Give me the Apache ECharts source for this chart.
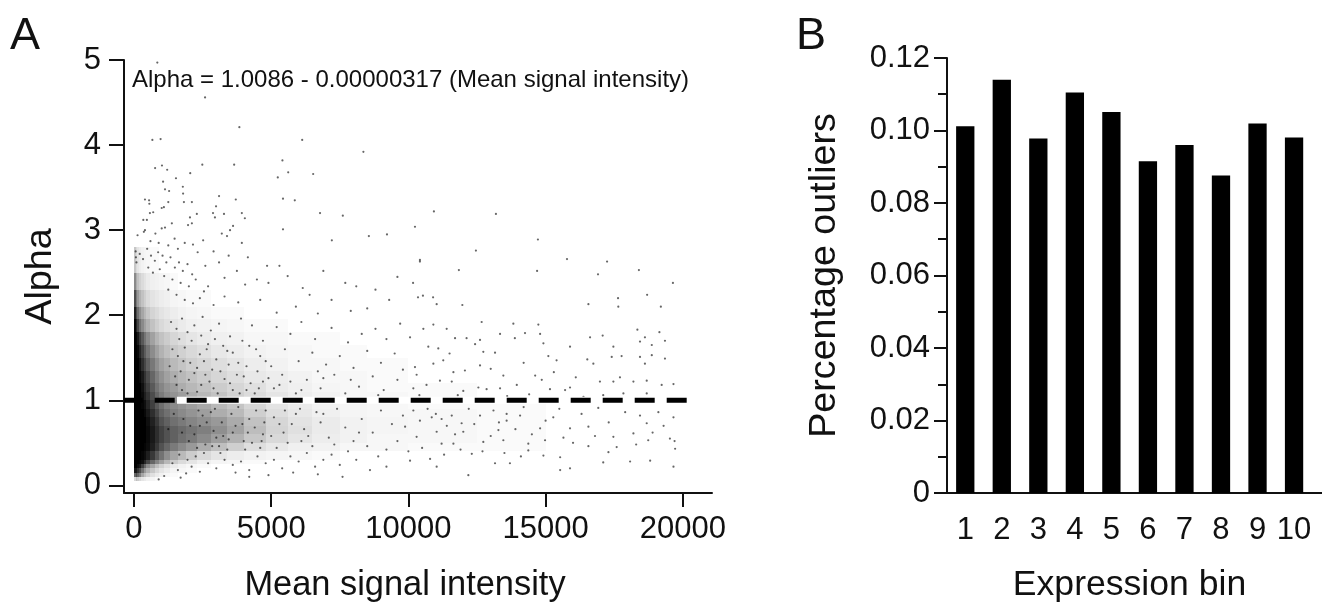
<!DOCTYPE html>
<html><head><meta charset="utf-8">
<style>html,body{margin:0;padding:0;background:#fff}#c{width:1322px;height:602px}</style>
<script src="https://cdn.jsdelivr.net/npm/echarts@6/dist/echarts.min.js"></script>
</head><body><div id="c"></div>
<script>
// Panel B values
const bins = [1,2,3,4,5,6,7,8,9,10];
const outliers = [0.1012,0.1140,0.0978,0.1105,0.1051,0.0915,0.0960,0.0876,0.1019,0.0981];
// Panel A: the trend line level
const fitAlpha = 1;
// Panel A: too many dots to read one by one, so the dense core is an estimated table of darkness (percent)
const xEdges = [0,60,120,180,250,350,450,600,750,900,1100,1300,1600,1900,2300,2800,3400,4000,4800,5600,6500,7500,8500,10000,12500,15000,20000];
const alphaEdges = [.05,.1,.15,.2,.25,.3,.4,.5,.6,.7,.8,.9,1,1.1,1.2,1.35,1.5,1.65,1.8,1.95,2.1,2.3,2.5,2.8];
const darkness = [
 [15,25,20,15,10,8,5,4,2,1,0,0,0,0,0,0,0,0,0,0,0,0,0,0,0,0],
 [60,70,60,50,35,25,18,12,8,5,3,2,1,0,0,0,0,0,0,0,0,0,0,0,0,0],
 [90,90,80,70,55,40,30,22,15,10,7,4,3,2,1,0,0,0,0,0,0,0,0,0,0,0],
 [100,100,95,90,75,60,45,35,25,18,12,8,5,3,2,1,1,0,0,0,0,0,0,0,0,0],
 [100,100,100,98,95,85,72,60,48,38,28,20,14,10,6,4,3,2,1,1,0,0,0,0,0,0],
 [100,100,100,100,98,95,88,78,66,55,44,35,27,20,15,10,7,5,4,3,2,1,1,1,1,0],
 [100,100,100,100,100,98,95,88,78,68,60,52,46,40,32,25,19,13,9,6,5,3,3,2,2,1],
 [100,100,100,100,100,100,96,90,82,74,68,62,56,52,46,38,30,22,15,10,7,5,3,3,2,1],
 [100,100,100,100,100,100,96,90,82,74,68,62,58,54,50,44,36,26,17,12,8,5,4,3,2,1],
 [100,100,100,100,100,100,94,87,78,68,62,56,52,48,44,40,33,24,16,11,8,5,4,3,2,1],
 [100,100,100,100,100,97,90,82,72,62,56,50,46,42,38,32,27,19,13,9,6,4,3,3,2,1],
 [100,100,100,100,98,94,85,75,65,57,50,46,42,38,34,28,23,16,11,8,5,4,3,2,2,1],
 [100,100,100,100,96,88,80,70,60,52,46,42,38,32,28,24,18,14,10,7,5,3,3,2,1,1],
 [100,100,100,100,94,84,75,65,55,48,42,38,32,28,24,20,16,12,8,6,4,3,2,2,1,1],
 [100,100,100,97,90,80,70,60,50,43,37,32,28,24,20,16,13,9,7,5,3,3,2,1,1,1],
 [100,100,100,93,82,72,62,53,44,37,32,27,23,19,16,13,10,7,5,3,3,2,2,1,1,1],
 [100,100,97,86,75,64,54,45,37,30,25,21,18,15,12,9,7,5,4,3,2,2,1,1,1,0],
 [100,98,90,76,65,54,45,37,29,24,20,16,13,10,8,6,5,3,3,2,2,1,1,1,0,0],
 [98,86,72,56,46,37,30,24,19,15,12,10,8,6,5,4,3,2,2,1,1,1,1,0,0,0],
 [88,70,56,44,35,28,22,17,14,11,9,7,5,4,3,2,2,1,1,1,1,0,0,0,0,0],
 [70,52,40,30,24,19,14,11,9,7,6,4,3,2,2,1,1,0,0,0,0,0,0,0,0,0],
 [46,32,24,18,14,11,8,6,5,4,3,2,1,1,1,0,0,0,0,0,0,0,0,0,0,0],
 [22,14,10,7,5,4,3,2,2,1,1,0,0,0,0,0,0,0,0,0,0,0,0,0,0,0]
];
// Panel A: individual dots [mean signal intensity, alpha]
const dotsUpper = [[850,4.97],[2590,4.56],[3840,4.21],[670,4.06],[970,4.07],[6130,4.06],[8360,3.92],[5410,3.82],[3650,3.77],[2490,3.77],[770,3.73],[1020,3.76],[1210,3.71],[2050,3.67],[6530,3.66],[5620,3.68],[5240,3.62],[1530,3.61],[1780,3.51],[1060,3.57],[1130,3.48],[1280,3.46],[1790,3.43],[3100,3.40],[3710,3.36],[5430,3.37],[5860,3.35],[400,3.36],[550,3.35],[560,3.31],[1250,3.33],[1820,3.33],[2110,3.33],[2990,3.28],[1010,3.26],[1090,3.27],[6780,3.20],[7610,3.17],[2880,3.20],[2950,3.15],[3280,3.19],[3930,3.20],[4040,3.14],[2290,3.19],[2040,3.15],[580,3.20],[700,3.21],[340,3.12],[470,3.12],[1380,3.08],[1970,3.06],[2110,3.08],[5430,3.01],[1010,3.02],[1130,3.03],[780,2.96],[400,3.00],[130,2.94],[360,2.98],[3610,3.05],[3500,3.00],[3200,2.96],[3390,2.93],[8560,2.93],[9220,2.95],[7210,2.88],[2520,2.88],[3930,2.85],[10930,3.22],[13190,3.19],[10240,3.04],[14720,2.89],[12460,2.76],[10420,2.65],[10420,2.63],[15780,2.66],[17240,2.63],[11840,2.53],[14690,2.52],[16910,2.48],[18400,2.53],[10170,2.38],[19640,2.38],[10350,2.21],[10530,2.23],[10900,2.21],[17640,2.20],[18700,2.24],[1480,2.90],[1850,2.85],[2150,2.83],[600,2.87],[900,2.85],[1250,2.82],[1600,2.78],[2320,2.74],[2900,2.75],[3450,2.70],[4150,2.68],[4850,2.58],[5300,2.58],[4480,2.42],[4900,2.38],[5600,2.46],[6150,2.32],[6900,2.52],[7700,2.38],[8100,2.34],[8800,2.30],[9600,2.45],[3100,2.62],[2600,2.58],[3750,2.52],[3300,2.44],[4050,2.36],[2700,2.34],[6400,2.24],[7200,2.18],[5900,2.10],[4600,2.18],[9300,2.18],[8500,2.08],[7900,2.05],[6700,2.02],[5200,2.03],[3800,2.15],[3300,2.22],[2400,2.20],[2900,2.12],[60,2.75],[70,2.68],[90,2.62],[210,2.72],[330,2.66],[480,2.78],[620,2.70],[760,2.64],[880,2.74],[1040,2.70],[1180,2.62],[1330,2.68],[1490,2.56],[1640,2.62],[1780,2.52],[1950,2.60],[2120,2.48],[520,2.56],[690,2.50],[940,2.54],[1100,2.46],[1400,2.42],[1700,2.38],[2000,2.34],[2250,2.42],[2550,2.28],[1250,2.30],[1550,2.24],[1850,2.18],[2150,2.14]];
const dotsMid = [[11030,2.13],[11966,2.12],[16560,2.13],[17650,2.10],[19200,2.10],[12670,1.92],[10910,1.89],[13825,1.90],[14736,1.89],[10545,1.84],[11395,1.84],[18345,1.83],[19147,1.80],[14250,1.79],[13340,1.78],[14800,1.78],[17080,1.76],[16620,1.74],[18620,1.74],[10060,1.74],[11700,1.73],[12120,1.73],[12610,1.71],[13880,1.73],[19350,1.70],[12430,1.66],[14920,1.67],[18870,1.65],[10726,1.63],[15890,1.63],[17470,1.63],[13157,1.56],[11090,1.61],[18440,1.69],[12730,1.57],[18870,1.53],[17410,1.51],[17770,1.52],[15100,1.52],[16520,1.48],[18440,1.51],[19350,1.49],[15400,1.47],[10240,1.39],[10910,1.43],[12610,1.41],[11270,1.47],[11640,1.33],[18620,1.43],[12060,1.35],[13460,1.29],[14620,1.29],[17710,1.27],[16740,1.43],[17470,1.22],[18200,1.22],[18685,1.23],[19660,1.19],[19230,1.18],[16980,1.22],[11150,1.23],[11580,1.22],[12550,1.15],[13950,1.18],[14860,1.24],[15890,1.15],[15160,1.13],[15710,1.12],[10180,1.14],[10660,1.18],[12000,1.11],[13340,1.14],[12850,1.13],[17100,1.06],[17835,1.08],[16380,1.04],[18685,1.08],[10300,1.30],[11500,1.55],[13000,1.37],[14200,1.44],[15300,1.33],[16100,1.27],[13600,1.05],[14400,1.07],[11800,1.06],[10400,1.06],[9700,1.90],[9200,1.72],[8800,1.84],[8300,1.78],[7800,1.68],[7200,1.85],[6600,1.72],[6100,1.92],[5700,1.78],[5200,1.86],[4700,1.70],[4300,1.88],[3900,1.96],[3500,1.75],[3100,1.90],[2800,1.82],[2500,1.98],[9500,1.55],[9000,1.44],[8500,1.58],[8000,1.38],[7500,1.52],[7000,1.42],[6500,1.56],[6000,1.46],[5500,1.60],[5000,1.40],[4600,1.52],[4200,1.64],[3800,1.44],[3400,1.58],[3000,1.48],[2700,1.66],[2400,1.54],[2100,1.70],[1800,1.46],[1650,1.72],[9600,1.24],[9100,1.12],[8700,1.28],[8200,1.16],[7700,1.08],[7300,1.30],[6800,1.14],[6300,1.24],[5900,1.08],[5400,1.30],[5100,1.14],[4700,1.22],[4400,1.08],[4000,1.28],[3600,1.12],[3300,1.25],[2900,1.14],[2600,1.30],[2300,1.10],[2000,1.24],[1750,1.12],[1500,1.28],[9800,1.36],[8900,1.06],[7900,1.24],[6700,1.34],[5700,1.22],[4900,1.26],[4100,1.12],[1350,1.92],[1550,1.84],[1750,1.96],[1950,1.80],[2200,1.88],[2450,1.76],[2650,1.60],[2950,1.72],[3250,1.64],[3600,1.56],[3950,1.70],[4450,1.60],[1400,1.60],[1600,1.52],[1850,1.62],[2050,1.44],[2300,1.38],[2550,1.46],[2850,1.36],[3150,1.34],[3450,1.42],[3750,1.30],[4100,1.40],[4500,1.34],[4800,1.46],[1300,1.40],[1550,1.18],[1700,1.34],[1950,1.08],[2200,1.32],[2450,1.18],[2750,1.22],[3050,1.08],[3500,1.20],[3850,1.08],[4250,1.20],[4550,1.14],[5300,1.18],[6100,1.12],[6900,1.26]];
const dotsLower = [[10180,.88],[10850,.80],[11210,.78],[13100,.88],[13580,.84],[14070,.82],[16310,.84],[16920,.91],[18440,.82],[19110,.86],[19660,.80],[10420,.76],[11580,.82],[11940,.73],[12610,.82],[13580,.76],[14800,.67],[15280,.80],[15890,.67],[16560,.69],[18685,.73],[9880,.69],[11030,.63],[12000,.63],[13280,.65],[14370,.49],[15650,.56],[18200,.61],[18740,.53],[19530,.55],[17470,.57],[10300,.57],[11210,.49],[11640,.49],[12730,.51],[13460,.53],[14980,.53],[16560,.46],[17590,.45],[19720,.43],[17290,.39],[10060,.29],[10790,.31],[12310,.37],[13157,.26],[13700,.26],[14370,.41],[15530,.33],[15530,.18],[15890,.20],[19660,.22],[17100,.27],[12185,.12],[11030,.22],[18810,.29],[18080,.28],[14920,.35],[10700,.90],[11000,.84],[11400,.70],[11700,.60],[12200,.90],[12400,.72],[13000,.58],[13300,.74],[13900,.66],[14200,.92],[14500,.60],[15000,.76],[15500,.90],[16000,.50],[16800,.58],[17300,.74],[17900,.86],[18300,.48],[18900,.62],[19300,.70],[19700,.52],[10000,.40],[10500,.44],[11300,.36],[11900,.42],[12700,.40],[13500,.38],[14100,.34],[9800,.82],[9400,.72],[9000,.88],[8700,.62],[8300,.78],[8000,.52],[7700,.68],[7400,.90],[7100,.56],[6800,.74],[6500,.46],[6200,.66],[5900,.84],[5600,.50],[5300,.72],[5000,.58],[4800,.88],[4600,.44],[4400,.68],[4200,.78],[4000,.52],[3800,.92],[3600,.62],[3400,.42],[3200,.74],[3000,.56],[2800,.86],[2600,.48],[2400,.70],[2200,.60],[9600,.52],[9200,.42],[8900,.34],[8500,.46],[8100,.30],[7800,.40],[7500,.24],[7200,.36],[6900,.30],[6600,.22],[6300,.38],[6000,.28],[5700,.34],[5400,.20],[5100,.30],[4800,.26],[4500,.34],[4200,.18],[3900,.28],[3600,.24],[3300,.30],[3000,.20],[2700,.26],[2400,.16],[2100,.22],[1900,.14],[1600,.18],[7600,.10],[6700,.13],[5800,.15],[4900,.12],[4200,.10],[3700,.15],[1700,.09],[1100,.11],[900,.07],[9200,.22],[8600,.18],[8200,.62],[7300,.48],[6900,.84],[6100,.52],[5500,.88],[5200,.44],[4700,.60],[4300,.50],[3700,.70],[3100,.46],[2900,.64],[2500,.82],[2300,.44],[2000,.52],[1800,.78],[5100,.80],[5450,.62],[5750,.72],[6050,.90],[6350,.58],[6650,.86],[4150,.62],[4450,.88],[4750,.74],[3950,.72],[3550,.84],[3250,.58],[2950,.90],[2650,.74],[2350,.88],[2050,.70],[1750,.62],[1450,.84],[1250,.66],[4650,.52],[4050,.42],[3450,.54],[3150,.38],[2850,.46],[2550,.38],[2250,.34],[1950,.30],[1650,.36],[1400,.26]];

const sparseDots = dotsUpper.concat(dotsMid, dotsLower);
const darknessCells = [];
darkness.forEach((row, r) => row.forEach((d, c) => {
  if (d > 1) darknessCells.push([xEdges[c], xEdges[c+1], alphaEdges[r], alphaEdges[r+1], d / 100]);
}));
const barData = bins.map((b, i) => [b, outliers[i]]);

const FONT = '"Liberation Sans", Arial, sans-serif';
const INK = '#111';
const chart = echarts.init(document.getElementById('c'), null, {renderer: 'canvas'});
const ticks = {fontFamily: FONT, fontSize: 31, color: INK};
const axisLine = {show: true, onZero: false, lineStyle: {color: INK, width: 2}};
chart.setOption({
  animation: false,
  backgroundColor: '#fff',
  grid: [
    {left: 124, top: 60, width: 588, height: 433, outerBoundsMode: 'none'},
    {left: 947, top: 58, width: 375, height: 435, outerBoundsMode: 'none'}
  ],
  xAxis: [
    {gridIndex: 0, type: 'value', min: -364, max: 21064, splitLine: {show: false},
     axisLine, axisTick: {length: 14, customValues: [0,5000,10000,15000,20000], lineStyle: {color: INK, width: 2}},
     axisLabel: {...ticks, margin: 21, customValues: [0,5000,10000,15000,20000], formatter: v => String(v), hideOverlap: false},
     name: 'Mean signal intensity', nameLocation: 'middle', nameGap: 76, nameTextStyle: {fontFamily: FONT, fontSize: 34.4, color: INK, padding: [0,26,0,0]}},
    {gridIndex: 1, type: 'value', min: 0.5, max: 10.765, splitLine: {show: false},
     axisLine, axisTick: {show: false},
     axisLabel: {...ticks, margin: 22, customValues: bins, formatter: v => String(v), hideOverlap: false},
     name: 'Expression bin', nameLocation: 'middle', nameGap: 74, nameTextStyle: {fontFamily: FONT, fontSize: 35.6, color: INK, padding: [0,10,0,0]}}
  ],
  yAxis: [
    {gridIndex: 0, type: 'value', min: -0.09, max: 5, splitLine: {show: false},
     axisLine, axisTick: {length: 15, customValues: [0,1,2,3,4,5], lineStyle: {color: INK, width: 2}},
     axisLabel: {...ticks, margin: 23, customValues: [0,1,2,3,4,5], formatter: v => String(v)},
     name: 'Alpha', nameLocation: 'middle', nameGap: 56, nameTextStyle: {fontFamily: FONT, fontSize: 37.8, color: INK, padding: [0,0,8,0]}},
    {gridIndex: 1, type: 'value', min: 0, max: 0.12, interval: 0.02, splitLine: {show: false},
     axisLine, axisTick: {length: 13, lineStyle: {color: INK, width: 2}},
     minorTick: {show: true, splitNumber: 2, length: 9, lineStyle: {color: INK, width: 2}},
     axisLabel: {...ticks, margin: 17, formatter: v => v === 0 ? '0' : v.toFixed(2)},
     name: 'Percentage outliers', nameLocation: 'middle', nameGap: 103, nameTextStyle: {fontFamily: FONT, fontSize: 37.7, color: INK}}
  ],
  series: [
    {type: 'custom', name: 'Density', xAxisIndex: 0, yAxisIndex: 0, data: darknessCells, silent: true,
     encode: {x: [0,1], y: [2,3]},
     renderItem(params, api) {
       const a = api.coord([api.value(0), api.value(3)]);
       const b = api.coord([api.value(1), api.value(2)]);
       const x0 = Math.round(a[0]), y0 = Math.round(a[1]);
       return {type: 'rect', shape: {x: x0, y: y0, width: Math.round(b[0]) - x0, height: Math.round(b[1]) - y0},
               style: {fill: 'rgba(0,0,0,' + api.value(4) + ')'}};
     }},
    {type: 'scatter', name: 'Genes', xAxisIndex: 0, yAxisIndex: 0, data: sparseDots, symbol: 'circle', symbolSize: 2.2,
     itemStyle: {color: '#000', opacity: 0.6}, silent: true},
    {type: 'line', name: 'Fit halo', xAxisIndex: 0, yAxisIndex: 0, data: [[1567,fitAlpha],[20245,fitAlpha]], symbol: 'none',
     lineStyle: {color: '#fff', width: 7}, silent: true},
    {type: 'line', name: 'Fit', xAxisIndex: 0, yAxisIndex: 0, data: [[-364,fitAlpha],[20245,fitAlpha]], symbol: 'none',
     lineStyle: {color: '#000', width: 5, type: [20,12], dashOffset: 1.3, cap: 'butt'}, silent: true},
    {type: 'bar', name: 'Percentage outliers', xAxisIndex: 1, yAxisIndex: 1, data: barData, barWidth: 18.3,
     itemStyle: {color: '#000'}, silent: true}
  ],
  graphic: [
    {type: 'text', left: 132, top: 68, style: {text: 'Alpha = 1.0086 - 0.00000317 (Mean signal intensity)', font: '24px ' + FONT, fill: INK}},
    {type: 'text', left: 10, top: 14, style: {text: 'A', font: '45px ' + FONT, fill: INK}},
    {type: 'text', left: 796, top: 14, style: {text: 'B', font: '45px ' + FONT, fill: INK}}
  ]
});
</script></body></html>
